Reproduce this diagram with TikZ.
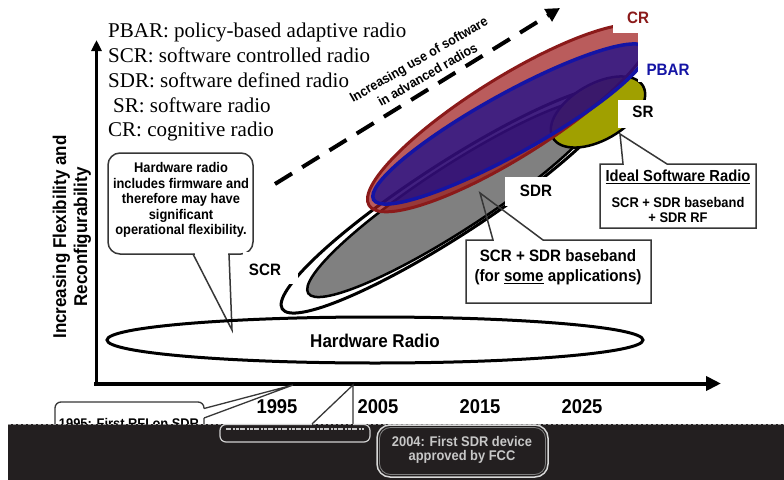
\documentclass[tikz,border=0pt]{standalone}
\usepackage{fontspec}
\setmainfont{Liberation Serif}
\newfontfamily\lbl{Liberation Sans}[FakeStretch=0.92]
\usetikzlibrary{arrows.meta}
\definecolor{bandc}{RGB}{35,31,32}
\definecolor{crline}{RGB}{139,26,26}
\definecolor{crfill}{RGB}{160,30,30}
\definecolor{pbline}{RGB}{20,20,165}
\definecolor{pbfill}{RGB}{16,9,144}
\definecolor{srfill}{RGB}{160,160,0}
\definecolor{sdrfill}{RGB}{128,128,128}
\definecolor{boxline}{RGB}{55,55,55}
\newcommand\fsz[2]{\fontsize{#1}{#2}\selectfont}
\begin{document}
\begin{tikzpicture}[x=1pt,y=-1pt,
  lab/.style={font=\lbl\bfseries\fsz{16.5}{19},inner sep=0pt},
  call/.style={font=\lbl\bfseries\fsz{14}{15.5},align=center,inner sep=0pt},
  timesl/.style={font=\fsz{21}{24},anchor=base west,inner sep=0pt},
  yr/.style={font=\lbl\bfseries\fsz{20}{22},inner sep=0pt},
  elline/.style={line width=3pt},
  cbox/.style={draw=boxline,line width=1.5pt,line join=miter}]

\useasboundingbox (0,0) rectangle (784,479);
\fill[white] (0,0) rectangle (784,479);

% legend
\node[timesl] (tPBAR) at (108,37) {PBAR: policy-based adaptive radio};
\node[timesl] (tSCR) at (108,62) {SCR: software controlled radio};
\node[timesl] (tSDR) at (108,87) {SDR: software defined radio};
\node[timesl] (tSR) at (113,112) {SR: software radio};
\node[timesl] (tCR) at (108,136) {CR: cognitive radio};

% axes
\coordinate (ybase) at (96.5,386);
\coordinate (ytip) at (96.5,40);
\coordinate (xbase) at (94,383.5);
\coordinate (xtip) at (721,383.5);
\draw[line width=3.5pt,-{Triangle[length=11pt,width=10pt]}] (ybase) -- (ytip);
\draw[line width=4pt,-{Triangle[length=15pt,width=14pt]}] (xbase) -- (xtip);
\node[font=\lbl\bfseries\fsz{18.5}{21},rotate=90,align=center,inner sep=0pt] (ylab) at (72,237) {Increasing Flexibility and\\Reconfigurability};

% hardware callout
\draw[cbox,fill=white,rounded corners=12pt] (108,153) rectangle (253,254);
\fill[white] (194.5,252) rectangle (227.5,256);
\coordinate (hwtip) at (232,330);
\draw[cbox] (193,254) -- (hwtip) -- (229,254);
\node[call] (hwtext) at (181,200) {Hardware radio\\includes firmware and\\therefore may have\\significant\\operational flexibility.};

% hardware radio ellipse
\draw[elline] (375,340) ellipse [x radius=268, y radius=23];
\node[font=\lbl\bfseries\fsz{18.5}{20},inner sep=0pt] (hw) at (375,341) {Hardware Radio};

% dashed trend arrow
\coordinate (dstart) at (275,184);
\coordinate (dend) at (560,8);
\draw[line width=4pt,dash pattern=on 20pt off 12pt,-{Triangle[length=14pt,width=14pt]}] (dstart) -- (dend);
\node[font=\lbl\bfseries\fsz{13.5}{17.5},rotate=30,align=center,inner sep=0pt] (swtext) at (423,67) {Increasing use of software\\in advanced radios};

% radio class ellipses
\draw[elline,rotate around={33:(450,200)}] (450,200) ellipse [x radius=200, y radius=36];
\draw[line width=2.5pt,fill=sdrfill,rotate around={33:(455,198)}] (455,198) ellipse [x radius=175, y radius=32];
\draw[line width=2.5pt,fill=srfill,rotate around={30:(598,112)}] (598,112) ellipse [x radius=52, y radius=28];
\draw[line width=3pt,draw=crline,fill=crfill,fill opacity=0.72,rotate around={32:(509,118)}] (509,118) ellipse [x radius=165, y radius=40];
\draw[line width=3.5pt,draw=pbline,fill=pbfill,fill opacity=0.7,rotate around={29:(510,124)}] (510,124) ellipse [x radius=156, y radius=30];

% label boxes
\fill[white] (613,-2) rectangle (700,33);
\fill[white] (638,33) rectangle (712,82);
\fill[white] (618,100) rectangle (665,128);
\fill[white] (505,177) rectangle (568,206);
\fill[white] (243,252) rectangle (298,284);
\node[lab,text=crline] (lCR) at (638,18) {CR};
\node[lab,text=pbline] (lPBAR) at (668,70) {PBAR};
\node[lab] (lSR) at (643,112) {SR};
\node[lab] (lSDR) at (536,191) {SDR};
\node[lab] (lSCR) at (265,270) {SCR};

% SCR + SDR baseband callout
\fill[white] (466,240) rectangle (651,303);
\coordinate (sdrtip) at (480,193);
\draw[cbox] (543,240) -- (651,240) -- (651,303) -- (466,303) -- (466,240) -- (493,240) -- (sdrtip) -- cycle;
\node[call,font=\lbl\bfseries\fsz{16.5}{20}] (sdrtext) at (558,267) {SCR + SDR baseband\\(for \underline{some} applications)};

% ideal software radio callout
\fill[white] (600,164) rectangle (756,228);
\coordinate (srtip) at (620,134);
\draw[cbox] (667,164) -- (756,164) -- (756,228) -- (600,228) -- (600,164) -- (623,164) -- (srtip) -- cycle;
\node[call,font=\lbl\bfseries\fsz{16}{18}] (idealt) at (678,177) {\underline{Ideal Software Radio}};
\node[call,font=\lbl\bfseries\fsz{14}{14.5}] (idealb) at (678,210) {SCR + SDR baseband\\+ SDR RF};

% years
\node[yr] (y1995) at (277,407) {1995};
\node[yr] (y2005) at (378,407) {2005};
\node[yr] (y2015) at (480,407) {2015};
\node[yr] (y2025) at (582,407) {2025};

% 1995 callout
\coordinate (tip95) at (293,385);
\draw[draw=boxline,line width=1.3pt,rounded corners=6pt] (204,418) -- (204,470) -- (55,470) -- (55,402) -- (204,402) -- (204,408.5);
\draw[draw=boxline,line width=1.3pt] (204,408.5) -- (tip95) -- (204,418);
\node[font=\lbl\bfseries\fsz{14}{16},anchor=base,inner sep=0pt] (t1995) at (129,428) {1995: First RFI on SDR};

% 2005 callout tail
\coordinate (tip05) at (353,385);
\draw[draw=boxline,line width=1.3pt] (312,424) -- (tip05) -- (353,424);

% dark band
\fill[bandc] (8,424) rectangle (784,480);
\draw[white!60!black,line width=0.8pt,dash pattern=on 3pt off 2pt] (8,424.4) -- (784,424.4);

% garbled box on band
\draw[white!82!black,line width=1.2pt,rounded corners=6pt] (312,424.5) -- (220,424.5) -- (220,442) -- (370,442) -- (370,424.5) -- (353,424.5);
\draw[white!78!black,line width=2pt,dash pattern=on 5pt off 1.5pt on 2pt off 1pt on 3pt off 1.5pt] (226,429) -- (364,429);

% 2004 box
\draw[white!85!black,line width=1.5pt,rounded corners=13pt] (377,425) rectangle (548,477);
\draw[white!50!black,line width=0.8pt,rounded corners=11pt] (379.5,427.5) rectangle (545.5,474.5);
\node[font=\lbl\bfseries\fsz{14}{14},text=white!78!black,align=center,inner sep=0pt] (t2004) at (462,450) {2004: First SDR device\\approved by FCC};
\end{tikzpicture}
\end{document}
